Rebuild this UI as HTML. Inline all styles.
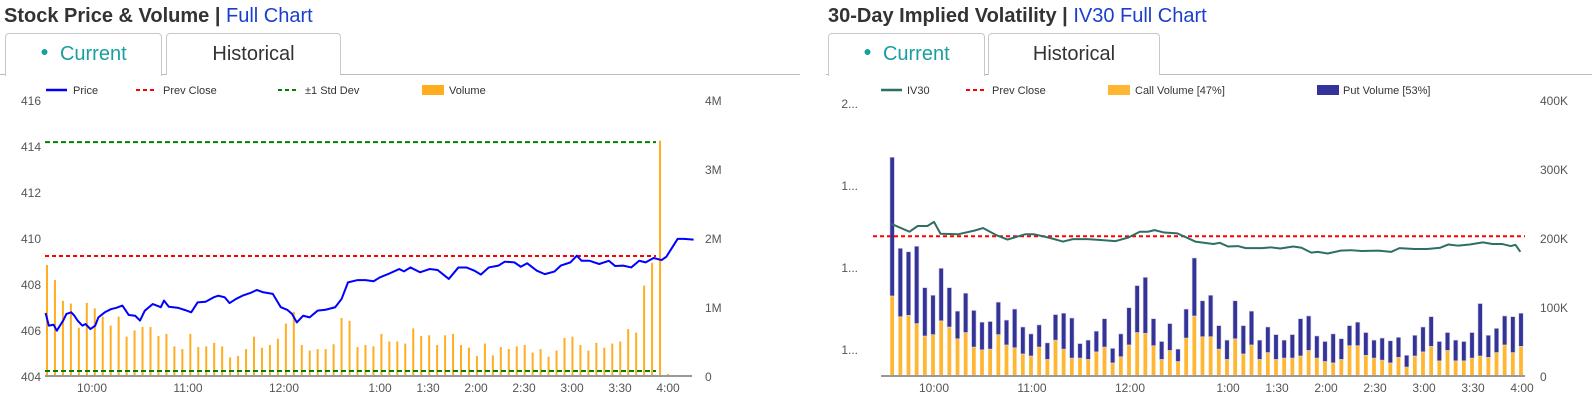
<!DOCTYPE html>
<html><head><meta charset="utf-8">
<style>
html,body{margin:0;padding:0;background:#fff;width:1592px;height:407px;overflow:hidden;font-family:"Liberation Sans",Arial,sans-serif}
.abs{position:absolute}
.title{font-weight:bold;font-size:20px;color:#333;top:5px;white-space:nowrap}
.title a{color:#1a3fcf;font-weight:normal;text-decoration:none}
.tab{position:absolute;top:33px;height:42px;border:1px solid #c8c8c8;border-bottom:none;border-radius:4px 4px 0 0;box-sizing:border-box;font-size:20px;line-height:40px;text-align:center;background:#fff}
.tab.cur{color:#1a9e9e}
.tab.his{color:#333}
.tabline{position:absolute;top:74px;height:1px;background:#bbb}
svg text{font-family:"Liberation Sans",Arial,sans-serif}
</style></head><body>
<div class="abs title" style="left:4px">Stock Price &amp; Volume <span style="color:#333">|</span> <a>Full Chart</a></div>
<div class="tabline" style="left:0;width:800px"></div>
<div class="tab cur" style="left:5px;width:157px;height:43px"><span style="font-size:14px;position:relative;top:-4px">●</span>&nbsp;&nbsp;Current</div>
<div class="tab his" style="left:166px;width:175px">Historical</div>

<div class="abs title" style="left:828px">30-Day Implied Volatility <span style="color:#333">|</span> <a>IV30 Full Chart</a></div>
<div class="tabline" style="left:826px;width:766px"></div>
<div class="tab cur" style="left:828px;width:157px;height:43px"><span style="font-size:14px;position:relative;top:-4px">●</span>&nbsp;&nbsp;Current</div>
<div class="tab his" style="left:988px;width:172px">Historical</div>

<svg id="chart" class="abs" style="left:0;top:0" width="1592" height="407" xmlns="http://www.w3.org/2000/svg"></svg>

<script>
// ---------- Left chart data ----------
const priceTimes=[1,3,6,8,10,12,14,17,19,21,24,26,29,32,34,38,42,45,49,53,57,60,63,68,73,75,78,84,88,92,96,101,106,109,113,116,120,124,129,133,137,143,148,152,155,158,162,166,171,176,182,186,190,196,201,206,210,215,222,225,229,235,241,246,253,259,264,269,273,278,284,288,294,298,302,308,313,319,323,329,333,336,341,347,353,357,362,367,372,376,381,386,389,392,396,400,406];
const priceValues=[406.74,406.19,406.23,405.97,406.19,406.41,406.70,406.77,406.62,406.41,406.19,406.26,406.04,406.19,406.55,406.77,406.91,406.96,407.06,406.65,406.62,406.41,406.84,407.13,406.99,407.28,407.01,406.96,406.87,406.77,407.20,407.23,407.42,407.49,407.42,407.17,407.35,407.49,407.61,407.74,407.64,407.57,406.99,406.88,406.70,406.33,406.62,406.55,406.84,406.88,406.99,407.35,408.07,408.17,408.17,408.12,408.29,408.43,408.65,408.55,408.72,408.51,408.65,408.61,408.22,408.72,408.72,408.58,408.41,408.72,408.80,408.97,408.94,408.75,408.90,408.58,408.43,408.54,408.80,408.94,409.23,409.01,409.01,408.87,409.01,408.78,408.80,408.72,409.01,408.94,409.13,409.04,409.19,409.52,409.96,409.96,409.93];
const stockVolume=[1.61,1.39,1.09,1.05,0.70,1.06,0.98,0.86,0.73,0.86,0.57,0.66,0.71,0.71,0.58,0.61,0.43,0.39,0.61,0.42,0.43,0.48,0.43,0.27,0.29,0.39,0.57,0.41,0.45,0.54,0.76,0.93,0.45,0.37,0.39,0.39,0.46,0.84,0.80,0.42,0.45,0.43,0.61,0.50,0.50,0.47,0.69,0.58,0.59,0.45,0.59,0.61,0.45,0.41,0.29,0.47,0.30,0.42,0.39,0.43,0.45,0.34,0.39,0.28,0.37,0.55,0.57,0.45,0.37,0.48,0.41,0.47,0.50,0.68,0.63,1.31,1.64,3.41,0.03];
const prevClose=409.22;
const stdUpper=414.17, stdLower=404.22;
const priceTicks=[404,406,408,410,412,414,416];
const volTicks=[0,1,2,3,4];
const volTickLabels=['0','1M','2M','3M','4M'];
const timeTicks=[30,90,150,210,240,270,300,330,360,390];
const timeTickLabels=['10:00','11:00','12:00','1:00','1:30','2:00','2:30','3:00','3:30','4:00'];

// ---------- Right chart data ----------
const ivTimes=[4,15,20,26,30,34,45,55,60,68,75,86,91,100,109,115,124,132,141,149,156,161,165,171,179,190,201,205,210,216,221,231,236,242,250,255,261,265,271,279,285,292,302,310,315,324,332,340,345,351,358,366,372,378,383,386,389];
const ivValues=[17.05,16.86,17.0,17.0,17.1,16.81,16.8,16.89,16.95,16.78,16.67,16.8,16.8,16.72,16.62,16.68,16.68,16.66,16.63,16.72,16.86,16.86,16.9,16.84,16.82,16.62,16.56,16.59,16.5,16.51,16.46,16.46,16.48,16.45,16.5,16.47,16.35,16.37,16.33,16.4,16.41,16.39,16.4,16.37,16.46,16.44,16.44,16.47,16.55,16.52,16.55,16.6,16.56,16.56,16.51,16.54,16.37];
const ivPrevClose=16.75;
const callVol=[116,86,88,76,58,60,80,71,54,63,42,38,39,60,45,41,32,29,42,24,52,39,26,26,24,35,42,19,28,45,63,62,44,24,37,21,55,87,57,57,39,24,54,32,45,24,34,24,26,26,29,37,26,21,19,24,44,44,30,26,23,19,27,13,29,35,43,22,37,22,22,26,29,27,34,45,34,43];
const totalVol=[317,185,180,188,128,117,156,128,94,120,95,78,79,107,81,97,71,61,74,48,89,91,84,47,52,65,83,40,61,99,131,143,83,50,76,39,97,171,109,117,73,52,109,73,94,52,71,60,52,60,83,87,58,50,61,54,73,78,63,52,55,51,56,30,59,71,86,50,63,52,50,63,105,59,69,87,86,91];
const putVol=totalVol.map((t,i)=>t-callVol[i]);
const ivTicks=[14,16,18,20];
const ivTickLabels=['1...','1...','1...','2...'];
const ivVolTicks=[0,100,200,300,400];
const ivVolTickLabels=['0','100K','200K','300K','400K'];

const NS='http://www.w3.org/2000/svg';
const svg=document.getElementById('chart');
function mk(tag,attrs,parent){const e=document.createElementNS(NS,tag);for(const k in attrs)e.setAttribute(k,attrs[k]);(parent||svg).appendChild(e);return e;}

// ===== Left chart scales =====
const L={x0:44,pxPerMin:1.6,top:100,bottom:376,left:45,right:692};
const lx=m=>L.x0+m*L.pxPerMin;
const ly=p=>L.bottom-(p-404)*(L.bottom-L.top)/12;
const lv=v=>L.bottom-v*(L.bottom-L.top)/4;
const lbx=i=>47+i*(621/(stockVolume.length-1));

const gL=mk('g',{});



// legend
const lg=mk('g',{},gL);


let e;
e=mk('line',{x1:46,y1:90,x2:67,y2:90,stroke:'#0000ff','stroke-width':2.5},lg);
e=mk('text',{x:73,y:94,'font-size':11,fill:'#333'},lg);e.textContent='Price';
e=mk('line',{x1:136,y1:90,x2:155,y2:90,stroke:'#ff0000','stroke-width':2,'stroke-dasharray':'4,3'},lg);
e=mk('text',{x:163,y:94,'font-size':11,fill:'#333'},lg);e.textContent='Prev Close';
e=mk('line',{x1:278,y1:90,x2:298,y2:90,stroke:'#008000','stroke-width':2,'stroke-dasharray':'4,3'},lg);
e=mk('text',{x:305,y:94,'font-size':11,fill:'#333'},lg);e.textContent='±1 Std Dev';
e=mk('rect',{x:422,y:85,width:22,height:10,fill:'#ffad1f'},lg);
e=mk('text',{x:449,y:94,'font-size':11,fill:'#333'},lg);e.textContent='Volume';

// axes labels
priceTicks.forEach(t=>{const tx=mk('text',{x:41,y:ly(t)+5,'font-size':12,fill:'#555','text-anchor':'end'},gL);tx.textContent=t;

});
volTicks.forEach((t,i)=>{const tx=mk('text',{x:705,y:lv(t)+5,'font-size':12,fill:'#555'},gL);tx.textContent=volTickLabels[i];

});
timeTicks.forEach((t,i)=>{const tx=mk('text',{x:lx(t),y:392,'font-size':12,fill:'#555','text-anchor':'middle'},gL);tx.textContent=timeTickLabels[i];

});

// volume bars
stockVolume.forEach((v,i)=>{const r=mk('rect',{x:lbx(i)-1,y:lv(v),width:2,height:L.bottom-lv(v),fill:'#ffae22'},gL);

});
// std dev lines
e=mk('line',{x1:L.left,x2:656,y1:ly(stdUpper),y2:ly(stdUpper),stroke:'#008000','stroke-width':2,'stroke-dasharray':'5,3'},gL);

e=mk('line',{x1:L.left,x2:656,y1:ly(stdLower),y2:ly(stdLower),stroke:'#008000','stroke-width':2,'stroke-dasharray':'5,3'},gL);

e=mk('line',{x1:L.left,x2:656,y1:ly(prevClose),y2:ly(prevClose),stroke:'#ff0000','stroke-width':2,'stroke-dasharray':'4,3'},gL);

// price line
e=mk('polyline',{points:priceTimes.map((t,i)=>lx(t)+','+ly(priceValues[i])).join(' '),fill:'none',stroke:'#0000ff','stroke-width':2,'stroke-linejoin':'round'},gL);

// baseline
e=mk('line',{x1:L.left,x2:L.right,y1:L.bottom,y2:L.bottom,stroke:'#999','stroke-width':2},gL);


// ===== Right chart =====
const R={x0:885,pxPerMin:98/60,top:103,bottom:376,left:881,right:1525};
const rx=m=>R.x0+m*R.pxPerMin;
const ry=v=>R.top+(20-v)*41;
const rv=k=>R.bottom-k*0.69;
const rbx=i=>rx(5*(i+1))-1;

const gR=mk('g',{});


const rg=mk('g',{},gR);


e=mk('line',{x1:881,y1:90,x2:902,y2:90,stroke:'#2e6f64','stroke-width':2.5},rg);
e=mk('text',{x:907,y:94,'font-size':11,fill:'#333'},rg);e.textContent='IV30';
e=mk('line',{x1:966,y1:90,x2:987,y2:90,stroke:'#ff0000','stroke-width':2,'stroke-dasharray':'4,3'},rg);
e=mk('text',{x:992,y:94,'font-size':11,fill:'#333'},rg);e.textContent='Prev Close';
e=mk('rect',{x:1108,y:85,width:22,height:10,fill:'#ffb733'},rg);
e=mk('text',{x:1135,y:94,'font-size':11,fill:'#333'},rg);e.textContent='Call Volume [47%]';
e=mk('rect',{x:1317,y:85,width:22,height:10,fill:'#333399'},rg);
e=mk('text',{x:1343,y:94,'font-size':11,fill:'#333'},rg);e.textContent='Put Volume [53%]';

ivTicks.forEach((t,i)=>{const tx=mk('text',{x:858,y:ry(t)+5,'font-size':12,fill:'#555','text-anchor':'end'},gR);tx.textContent=ivTickLabels[i];

});
ivVolTicks.forEach((t,i)=>{const tx=mk('text',{x:1540,y:rv(t)+5,'font-size':12,fill:'#555'},gR);tx.textContent=ivVolTickLabels[i];

});
timeTicks.forEach((t,i)=>{const tx=mk('text',{x:rx(t),y:392,'font-size':12,fill:'#555','text-anchor':'middle'},gR);tx.textContent=timeTickLabels[i];

});

callVol.forEach((c,i)=>{
  const p=putVol[i];
  const r1=mk('rect',{x:rbx(i)-2.2,y:rv(c),width:4.4,height:R.bottom-rv(c),fill:'#ffb733',stroke:'#fff','stroke-width':0.6},gR);
  
  
  const r2=mk('rect',{x:rbx(i)-2.2,y:rv(c+p),width:4.4,height:rv(c)-rv(c+p),fill:'#333399',stroke:'#ccd','stroke-width':0.6},gR);
  
  
});
e=mk('line',{x1:873,x2:R.right,y1:ry(ivPrevClose),y2:ry(ivPrevClose),stroke:'#ff0000','stroke-width':2,'stroke-dasharray':'4,3'},gR);

e=mk('polyline',{points:ivTimes.map((t,i)=>rx(t)+','+ry(ivValues[i])).join(' '),fill:'none',stroke:'#2e6f64','stroke-width':2,'stroke-linejoin':'round'},gR);

e=mk('line',{x1:R.left,x2:R.right,y1:R.bottom,y2:R.bottom,stroke:'#999','stroke-width':2},gR);

</script>
</body></html>
